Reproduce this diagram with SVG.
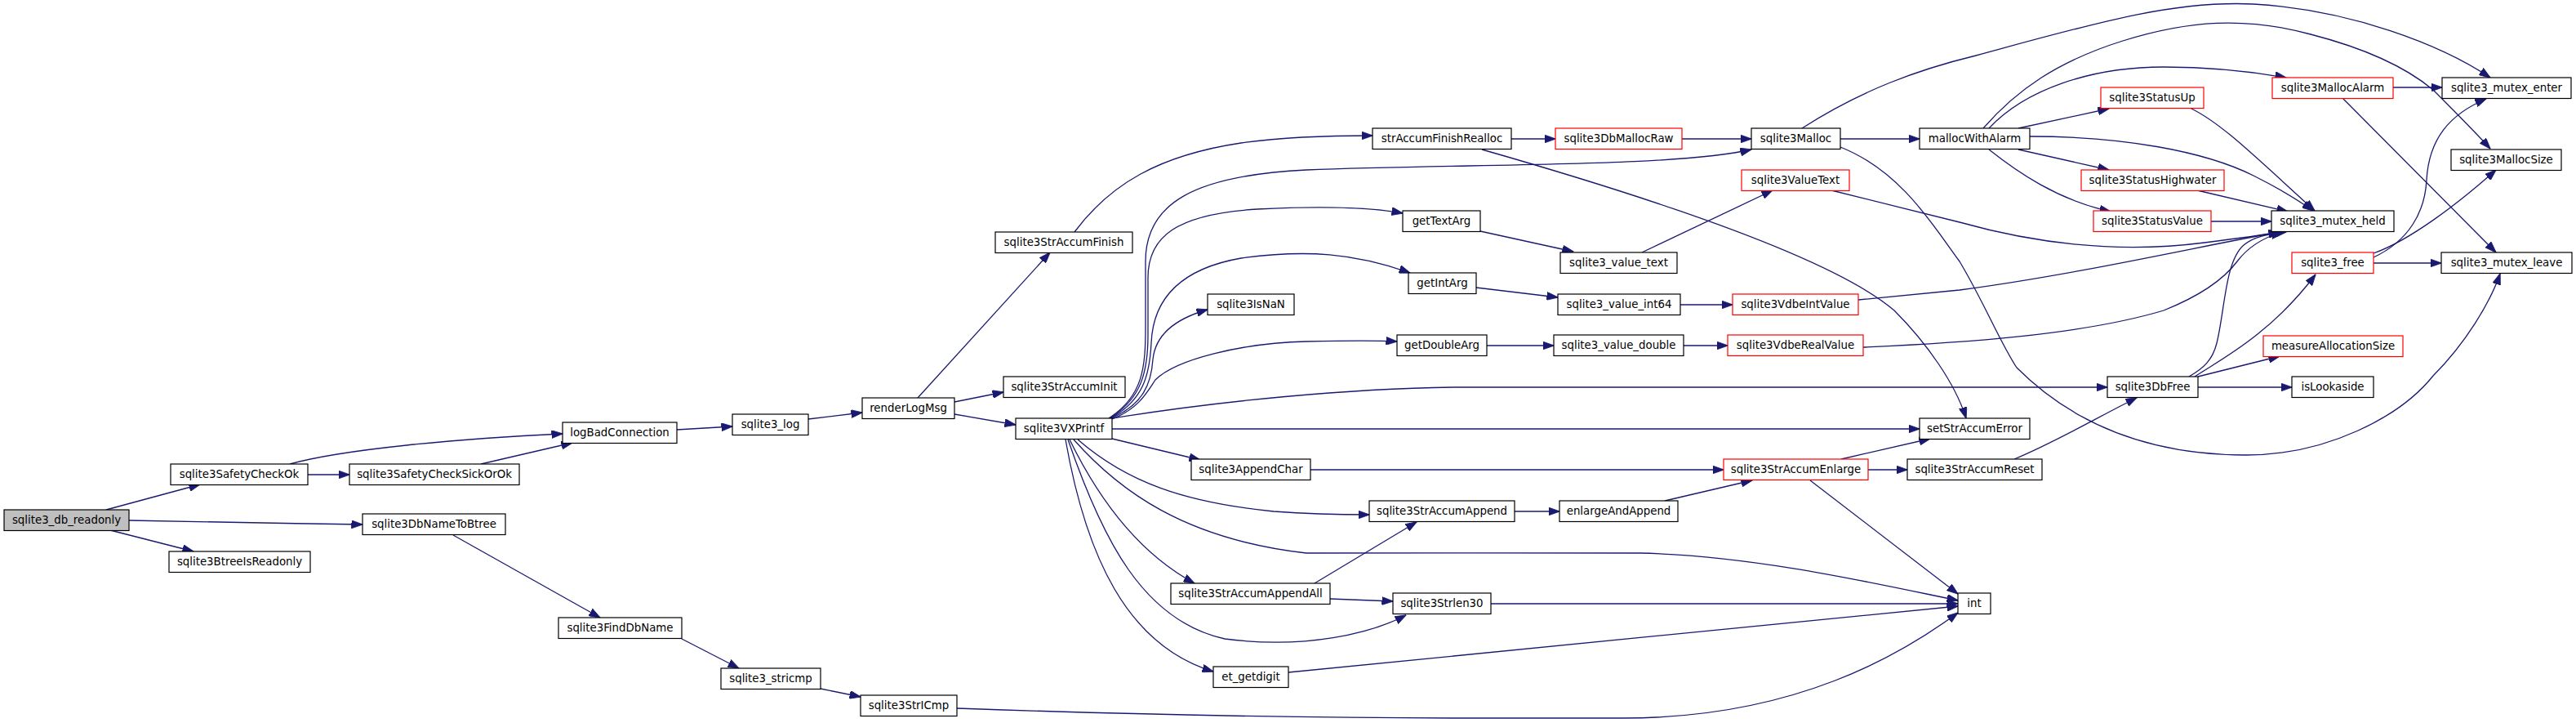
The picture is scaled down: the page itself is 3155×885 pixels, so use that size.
<svg xmlns="http://www.w3.org/2000/svg" width="3155" height="885" viewBox="0 0 3155 885">
<defs>
<marker id="a" viewBox="0 0 14 10" refX="13.5" refY="5" markerWidth="14" markerHeight="10" markerUnits="userSpaceOnUse" orient="auto">
<path d="M0,0 L14,5 L0,10 z" fill="#191970" stroke="#191970" stroke-width="0.8"/>
</marker>
<style>
.n rect{fill:#fff;stroke:#000;stroke-width:1.2}
.r rect{stroke:#ff0000}
.g rect{fill:#bfbfbf}
text{font-family:"DejaVu Sans","Liberation Sans",sans-serif;font-size:13.33px;text-anchor:middle;fill:#000}
#edges path{fill:none;stroke:#191970;stroke-width:1.3;marker-end:url(#a)}
</style>
</defs>
<rect x="0" y="0" width="3155" height="885" fill="#fff"/>
<g id="edges">
<path d="M130,624 L245,593"/>
<path d="M158,637 C300,639 350,641 444,642"/>
<path d="M135,649 L237,675"/>
<path d="M377,581 L428,581"/>
<path d="M355,568 C420,550 560,537 689,531"/>
<path d="M589,568 L701,542"/>
<path d="M829,526 L897,522"/>
<path d="M990,513 L1056,505"/>
<path d="M1124,487 L1286,309"/>
<path d="M1169,492 L1229,480"/>
<path d="M1169,507 L1244,520"/>
<path d="M1316,284 C1360,225 1420,190 1520,175 C1570,168 1630,166 1681,166"/>
<path d="M1851,170 L1905,170"/>
<path d="M2060,170 L2145,170"/>
<path d="M2254,170 L2351,170"/>
<path d="M1815,183 C2050,250 2250,320 2320,380 C2360,420 2395,470 2408,512"/>
<path d="M1358,512 C1400,485 1403,450 1403,400 L1403,320 C1403,250 1460,215 1600,208 C1800,200 2050,205 2145,183"/>
<path d="M1359,512 C1398,488 1406,455 1406,410 L1406,340 C1406,290 1440,262 1540,256 C1620,252 1680,254 1718,261"/>
<path d="M1360,512 C1400,490 1408,460 1410,420 C1412,370 1440,330 1520,316 C1600,305 1660,310 1727,334"/>
<path d="M1361,512 C1400,495 1410,470 1412,440 C1415,410 1440,390 1479,379"/>
<path d="M1362,513 C1395,500 1405,480 1415,465 C1440,440 1520,420 1600,418 C1650,417 1690,417 1711,418"/>
<path d="M1362,512 C1500,490 1650,476 1780,474 L2581,474"/>
<path d="M1362,525 L2351,525"/>
<path d="M1362,537 L1470,563"/>
<path d="M1320,538 C1380,590 1450,615 1560,626 C1600,629 1640,630 1677,630"/>
<path d="M1315,538 C1370,600 1450,660 1600,677 C1700,678 1900,676 2008,677 C2150,680 2300,715 2398,735"/>
<path d="M1310,538 C1350,620 1400,680 1463,714"/>
<path d="M1308,538 C1350,660 1400,760 1500,782 C1600,795 1680,775 1722,753"/>
<path d="M1305,538 C1330,680 1380,790 1486,822"/>
<path d="M1605,575 L2111,575"/>
<path d="M1855,626 L1910,626"/>
<path d="M2039,613 L2146,588"/>
<path d="M2255,562 L2364,537"/>
<path d="M2288,575 L2336,575"/>
<path d="M2217,588 L2398,727"/>
<path d="M2467,562 C2520,540 2570,510 2617,487"/>
<path d="M1610,714 L1735,639"/>
<path d="M1629,733 L1706,736"/>
<path d="M1826,739 L2398,739"/>
<path d="M1578,823 L2398,742"/>
<path d="M1172,867 C1400,875 1600,879 1800,879 L1988,879 C2200,879 2330,800 2398,750"/>
<path d="M555,655 L735,756"/>
<path d="M835,782 L905,818"/>
<path d="M1005,843 L1054,853"/>
<path d="M1813,283 L1927,308"/>
<path d="M2011,309 L2171,233"/>
<path d="M1808,352 L1908,364"/>
<path d="M2058,373 L2122,373"/>
<path d="M1821,423 L1903,423"/>
<path d="M2062,423 L2116,423"/>
<path d="M2243,233 L2400,272 C2500,300 2600,310 2700,297 C2740,292 2770,288 2792,284"/>
<path d="M2276,367 L2400,355 C2550,335 2700,300 2792,284"/>
<path d="M2282,425 C2400,420 2550,410 2650,380 C2700,360 2725,340 2740,320 C2755,300 2775,290 2795,284"/>
<path d="M2681,461 C2700,450 2710,440 2715,420 C2725,380 2725,320 2748,300 C2760,290 2775,287 2800,284"/>
<path d="M2688,461 C2720,440 2780,410 2836,336"/>
<path d="M2692,461 L2792,436"/>
<path d="M2692,474 L2807,474"/>
<path d="M2207,157 C2280,110 2350,85 2420,68 C2560,30 2660,0 2760,5 C2880,12 2990,55 3050,95"/>
<path d="M2254,180 C2330,210 2370,280 2400,320 C2430,370 2450,420 2470,450 C2550,530 2650,557 2751,557 C2850,557 2940,510 2980,460 C3020,420 3050,370 3062,335"/>
<path d="M2429,157 C2470,110 2520,75 2600,50 C2680,25 2750,20 2830,42 C2900,60 2950,85 2980,110 C3010,140 3030,160 3050,182"/>
<path d="M2436,157 C2480,110 2560,82 2650,82 C2710,82 2760,88 2800,95"/>
<path d="M2472,157 L2583,133"/>
<path d="M2486,167 C2600,167 2700,185 2760,215 C2790,230 2815,245 2833,258"/>
<path d="M2472,183 L2583,208"/>
<path d="M2436,183 C2470,210 2520,245 2585,259"/>
<path d="M2682,132 C2720,150 2760,190 2835,258"/>
<path d="M2691,233 L2802,259"/>
<path d="M2708,271 L2782,271"/>
<path d="M2931,107 L2991,107"/>
<path d="M2869,120 L3057,309"/>
<path d="M2907,315 C2950,295 2970,260 2972,220 C2975,170 3000,140 3045,121"/>
<path d="M2907,310 C2950,295 3010,250 3057,208"/>
<path d="M2907,322 L2990,322"/>
</g>
<g id="n1" class="n g"><rect x="5" y="624" width="153" height="25.5"/><text x="81.5" y="641">sqlite3_db_readonly</text></g>
<g id="n2" class="n"><rect x="209" y="568" width="168" height="25.5"/><text x="293" y="585">sqlite3SafetyCheckOk</text></g>
<g id="n3" class="n"><rect x="428" y="568" width="208" height="25.5"/><text x="532" y="585">sqlite3SafetyCheckSickOrOk</text></g>
<g id="n4" class="n"><rect x="689" y="517" width="140" height="25.5"/><text x="759" y="534">logBadConnection</text></g>
<g id="n5" class="n"><rect x="897" y="507" width="93" height="25.5"/><text x="943.5" y="524">sqlite3_log</text></g>
<g id="n6" class="n"><rect x="1056" y="487" width="113" height="25.5"/><text x="1112.5" y="504">renderLogMsg</text></g>
<g id="n7" class="n"><rect x="1219" y="284" width="168" height="25.5"/><text x="1303" y="301">sqlite3StrAccumFinish</text></g>
<g id="n8" class="n"><rect x="1229" y="461" width="149" height="25.5"/><text x="1303.5" y="478">sqlite3StrAccumInit</text></g>
<g id="n9" class="n"><rect x="1244" y="512" width="118" height="25.5"/><text x="1303" y="529">sqlite3VXPrintf</text></g>
<g id="n10" class="n"><rect x="1681" y="157" width="170" height="25.5"/><text x="1766" y="174">strAccumFinishRealloc</text></g>
<g id="n11" class="n r"><rect x="1905" y="157" width="155" height="25.5"/><text x="1982.5" y="174">sqlite3DbMallocRaw</text></g>
<g id="n12" class="n"><rect x="2145" y="157" width="109" height="25.5"/><text x="2199.5" y="174">sqlite3Malloc</text></g>
<g id="n13" class="n"><rect x="2351" y="157" width="135" height="25.5"/><text x="2418.5" y="174">mallocWithAlarm</text></g>
<g id="n14" class="n r"><rect x="2573" y="107" width="126" height="25.5"/><text x="2636" y="124">sqlite3StatusUp</text></g>
<g id="n15" class="n r"><rect x="2783" y="95" width="148" height="25.5"/><text x="2857" y="112">sqlite3MallocAlarm</text></g>
<g id="n16" class="n"><rect x="2991" y="95" width="158" height="25.5"/><text x="3070" y="112">sqlite3_mutex_enter</text></g>
<g id="n17" class="n"><rect x="3002" y="183" width="135" height="25.5"/><text x="3069.5" y="200">sqlite3MallocSize</text></g>
<g id="n18" class="n r"><rect x="2549" y="208" width="175" height="25.5"/><text x="2636.5" y="225">sqlite3StatusHighwater</text></g>
<g id="n19" class="n r"><rect x="2564" y="258" width="144" height="25.5"/><text x="2636" y="275">sqlite3StatusValue</text></g>
<g id="n20" class="n"><rect x="2782" y="258" width="150" height="25.5"/><text x="2857" y="275">sqlite3_mutex_held</text></g>
<g id="n21" class="n r"><rect x="2807" y="309" width="100" height="25.5"/><text x="2857" y="326">sqlite3_free</text></g>
<g id="n22" class="n"><rect x="2990" y="309" width="160" height="25.5"/><text x="3070" y="326">sqlite3_mutex_leave</text></g>
<g id="n23" class="n r"><rect x="2772" y="411" width="171" height="25.5"/><text x="2857.5" y="428">measureAllocationSize</text></g>
<g id="n24" class="n"><rect x="2807" y="461" width="100" height="25.5"/><text x="2857" y="478">isLookaside</text></g>
<g id="n25" class="n"><rect x="2581" y="461" width="111" height="25.5"/><text x="2636.5" y="478">sqlite3DbFree</text></g>
<g id="n26" class="n r"><rect x="2133" y="208" width="132" height="25.5"/><text x="2199" y="225">sqlite3ValueText</text></g>
<g id="n27" class="n"><rect x="1718" y="258" width="95" height="25.5"/><text x="1765.5" y="275">getTextArg</text></g>
<g id="n28" class="n"><rect x="1911" y="309" width="143" height="25.5"/><text x="1982.5" y="326">sqlite3_value_text</text></g>
<g id="n29" class="n"><rect x="1725" y="334" width="83" height="25.5"/><text x="1766.5" y="351">getIntArg</text></g>
<g id="n30" class="n"><rect x="1908" y="360" width="150" height="25.5"/><text x="1983" y="377">sqlite3_value_int64</text></g>
<g id="n31" class="n r"><rect x="2122" y="360" width="154" height="25.5"/><text x="2199" y="377">sqlite3VdbeIntValue</text></g>
<g id="n32" class="n"><rect x="1479" y="360" width="106" height="25.5"/><text x="1532" y="377">sqlite3IsNaN</text></g>
<g id="n33" class="n"><rect x="1711" y="410" width="110" height="25.5"/><text x="1766" y="427">getDoubleArg</text></g>
<g id="n34" class="n"><rect x="1903" y="410" width="159" height="25.5"/><text x="1982.5" y="427">sqlite3_value_double</text></g>
<g id="n35" class="n r"><rect x="2116" y="410" width="166" height="25.5"/><text x="2199" y="427">sqlite3VdbeRealValue</text></g>
<g id="n36" class="n"><rect x="2351" y="512" width="135" height="25.5"/><text x="2418.5" y="529">setStrAccumError</text></g>
<g id="n37" class="n"><rect x="1459" y="562" width="146" height="25.5"/><text x="1532" y="579">sqlite3AppendChar</text></g>
<g id="n38" class="n r"><rect x="2111" y="562" width="177" height="25.5"/><text x="2199.5" y="579">sqlite3StrAccumEnlarge</text></g>
<g id="n39" class="n"><rect x="2336" y="562" width="165" height="25.5"/><text x="2418.5" y="579">sqlite3StrAccumReset</text></g>
<g id="n40" class="n"><rect x="1677" y="613" width="178" height="25.5"/><text x="1766" y="630">sqlite3StrAccumAppend</text></g>
<g id="n41" class="n"><rect x="1910" y="613" width="145" height="25.5"/><text x="1982.5" y="630">enlargeAndAppend</text></g>
<g id="n42" class="n"><rect x="1434" y="714" width="195" height="25.5"/><text x="1531.5" y="731">sqlite3StrAccumAppendAll</text></g>
<g id="n43" class="n"><rect x="1706" y="726" width="120" height="25.5"/><text x="1766" y="743">sqlite3Strlen30</text></g>
<g id="n44" class="n"><rect x="2398" y="726" width="40" height="25.5"/><text x="2418" y="743">int</text></g>
<g id="n45" class="n"><rect x="1486" y="816" width="92" height="25.5"/><text x="1532" y="833">et_getdigit</text></g>
<g id="n46" class="n"><rect x="444" y="629" width="175" height="25.5"/><text x="531.5" y="646">sqlite3DbNameToBtree</text></g>
<g id="n47" class="n"><rect x="207" y="675" width="173" height="25.5"/><text x="293.5" y="692">sqlite3BtreeIsReadonly</text></g>
<g id="n48" class="n"><rect x="684" y="756" width="151" height="25.5"/><text x="759.5" y="773">sqlite3FindDbName</text></g>
<g id="n49" class="n"><rect x="883" y="818" width="122" height="25.5"/><text x="944" y="835">sqlite3_stricmp</text></g>
<g id="n50" class="n"><rect x="1054" y="851" width="118" height="25.5"/><text x="1113" y="868">sqlite3StrICmp</text></g>
</svg>
